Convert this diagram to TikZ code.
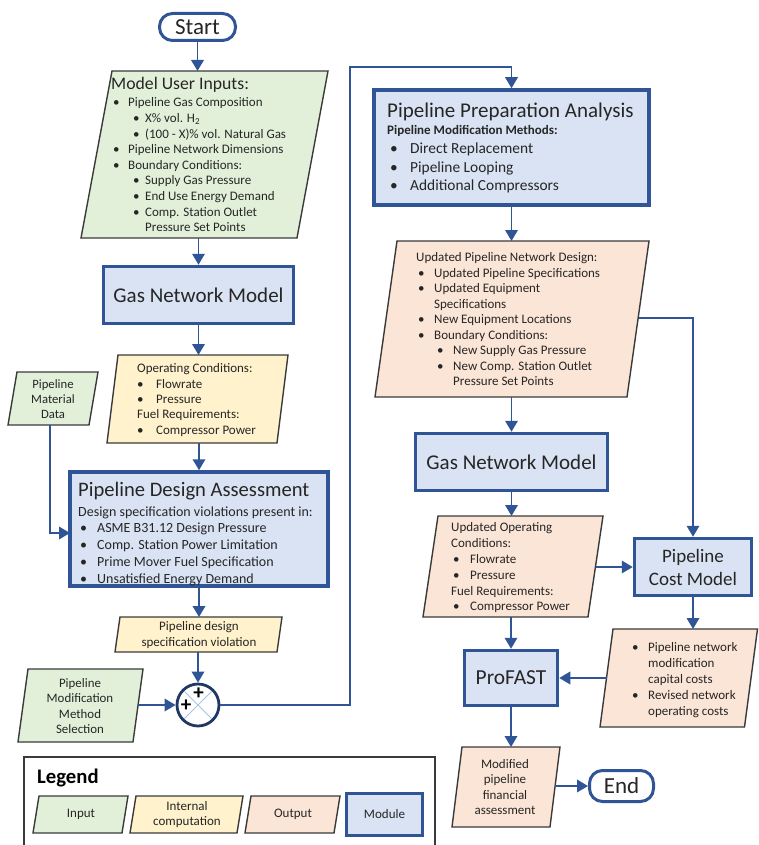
\documentclass[tikz,border=0pt]{standalone}
\usepackage{fontspec}
\setmainfont{Carlito}
\usetikzlibrary{arrows.meta}
\definecolor{modfill}{HTML}{DAE3F3}
\definecolor{modline}{HTML}{2F5597}
\definecolor{infill}{HTML}{E2F0D9}
\definecolor{compfill}{HTML}{FFF2CC}
\definecolor{outfill}{HTML}{FBE5D6}
\definecolor{pgline}{HTML}{3A3A3A}
\definecolor{navy}{HTML}{1F3864}
\definecolor{xlcol}{HTML}{A9C4E4}
\definecolor{txtcol}{HTML}{262626}
\newcommand\bi[2]{\hspace*{#1pt}\makebox[#2pt][l]{\textbullet}}
\newcommand\pgram[7]{%
  \draw[pg,fill=#2] (#3,#5) -- (#4,#5) -- ({#4-#7},#6) -- ({#3-#7},#6) -- cycle;
  \node[inner sep=0pt,outer sep=0pt,minimum width={(#4-#3)*1pt},minimum height={(#6-#5)*1pt}] (#1) at ({(#3+#4-#7)/2},{(#5+#6)/2}) {};
}
\tikzset{
  pg/.style={draw=pgline, line width=1.4pt},
  module/.style={draw=modline, fill=modfill, line width=3.5pt, inner sep=0pt, text=txtcol, align=center},
  term/.style={draw=modline, fill=white, line width=3pt, rounded corners=13pt, inner sep=0pt, text=txtcol, font=\fontsize{23}{26}\selectfont},
  arr/.style={draw=modline, line width=1.9pt, -{Triangle[length=11pt,width=12.5pt]}},
  conn/.style={draw=modline, line width=1.9pt},
  tx/.style={inner sep=0pt, text=txtcol, align=left, anchor=north west},
  ctx/.style={inner sep=0pt, text=txtcol, align=center},
  plus/.style={inner sep=0pt, text=black, font=\fontsize{21}{21}\selectfont\bfseries},
}
\begin{document}
\begin{tikzpicture}[x=1pt,y=-1pt]
\useasboundingbox (0,0) rectangle (759,845);

% Start
\node[term, minimum width=76pt, minimum height=27pt] (start) at (197.5,27) {Start};

% Model user inputs
\pgram{mui}{infill}{112}{328}{71}{238}{31}
\node[tx, font=\fontsize{17.7}{20}\selectfont] (muiT) at (111,77.5) {Model User Inputs:};
\node[tx, font=\fontsize{13}{15.6}\selectfont] (muiL) at (113,97.7) {%
\bi{0}{15}Pipeline Gas Composition\\
\bi{20}{12}X\% vol. H\textsubscript{2}\\
\bi{20}{12}(100 - X)\% vol. Natural Gas\\
\bi{0}{15}Pipeline Network Dimensions\\
\bi{0}{15}Boundary Conditions:\\
\bi{20}{12}Supply Gas Pressure\\
\bi{20}{12}End Use Energy Demand\\
\bi{20}{12}Comp. Station Outlet\\
\hspace*{32pt}Pressure Set Points};

% Gas network model 1
\node[module, minimum width=190pt, minimum height=57pt, font=\fontsize{21}{24}\selectfont] (gnm1) at (198.5,295) {Gas Network Model};

% Operating conditions
\pgram{oc}{compfill}{118}{288}{355}{443}{11}
\node[tx, font=\fontsize{13}{15.3}\selectfont] (ocT) at (137,363.7) {%
Operating Conditions:\\
\bi{0}{19}Flowrate\\
\bi{0}{19}Pressure\\
Fuel Requirements:\\
\bi{0}{19}Compressor Power};

% Pipeline material data
\pgram{pmd}{infill}{17}{98}{372}{425}{9}
\node[ctx, font=\fontsize{12.7}{15}\selectfont] (pmdT) at (53,399) {Pipeline\\Material\\Data};
\coordinate (pmdS) at (50,425);
\coordinate (pdaIn) at (70,533);

% Pipeline design assessment
\node[module, minimum width=258pt, minimum height=114pt] (pda) at (199,529) {};
\node[tx, font=\fontsize{20.6}{24}\selectfont] (pdaT) at (78,481.5) {Pipeline Design Assessment};
\node[tx, font=\fontsize{14}{16}\selectfont] (pdaS) at (78,506.3) {Design specification violations present in:};
\node[tx, font=\fontsize{14}{17}\selectfont] (pdaL) at (80,522.3) {%
\bi{0}{17}ASME B31.12 Design Pressure\\
\bi{0}{17}Comp. Station Power Limitation\\
\bi{0}{17}Prime Mover Fuel Specification\\
\bi{0}{17}Unsatisfied Energy Demand};

% Pipeline design specification violation
\pgram{pdsv}{compfill}{120}{282}{617}{652}{5}
\node[ctx, font=\fontsize{13}{16}\selectfont] (pdsvT) at (199,635) {Pipeline design\\specification violation};

% Summing junction
\node[circle, fill=white, minimum size=42pt, inner sep=0pt] (sum) at (198,705) {};
\draw[xlcol, line width=1pt] (184.5,691.5) -- (211.5,718.5) (184.5,718.5) -- (211.5,691.5);
\node[circle, draw=navy, line width=2.8pt, minimum size=42pt, inner sep=0pt] (sumB) at (198,705) {};
\node[plus] (plusT) at (198.5,694) {+};
\node[plus] (plusL) at (186,705.5) {+};

% Pipeline modification method selection
\pgram{pmms}{infill}{28}{143}{669}{742}{10}
\node[ctx, font=\fontsize{12.9}{15.5}\selectfont] (pmmsT) at (80,706) {Pipeline\\Modification\\Method\\Selection};

% Pipeline preparation analysis
\node[module, minimum width=275pt, minimum height=115pt] (ppa) at (511.5,147.5) {};
\node[tx, font=\fontsize{21}{24}\selectfont] (ppaT) at (387,102.4) {Pipeline Preparation Analysis};
\node[tx, font=\fontsize{13}{16}\selectfont\bfseries] (ppaS) at (387,124.7) {Pipeline Modification Methods:};
\node[tx, font=\fontsize{15.4}{18.5}\selectfont] (ppaL) at (390,142.7) {%
\bi{0}{20}Direct Replacement\\
\bi{0}{20}Pipeline Looping\\
\bi{0}{20}Additional Compressors};

% Updated pipeline network design
\pgram{upnd}{outfill}{397}{649}{241}{397}{22}
\node[tx, font=\fontsize{13}{15.5}\selectfont] (upndT) at (416,252.7) {%
Updated Pipeline Network Design:\\
\bi{2}{16}Updated Pipeline Specifications\\
\bi{2}{16}Updated Equipment\\
\hspace*{18pt}Specifications\\
\bi{2}{16}New Equipment Locations\\
\bi{2}{16}Boundary Conditions:\\
\bi{21}{16}New Supply Gas Pressure\\
\bi{21}{16}New Comp. Station Outlet\\
\hspace*{37pt}Pressure Set Points};
\coordinate (upndR) at (638.5,318);

% Gas network model 2
\node[module, minimum width=192pt, minimum height=57pt, font=\fontsize{21}{24}\selectfont] (gnm2) at (511.5,462) {Gas Network Model};

% Updated operating conditions
\pgram{uoc}{outfill}{438}{603}{516}{617}{15}
\node[tx, font=\fontsize{13}{15.8}\selectfont] (uocT) at (451,522.7) {%
Updated Operating\\
Conditions:\\
\bi{2}{17}Flowrate\\
\bi{2}{17}Pressure\\
Fuel Requirements:\\
\bi{2}{17}Compressor Power};

% Pipeline cost model
\node[module, minimum width=117pt, minimum height=57pt, font=\fontsize{19}{23}\selectfont] (pcm) at (693,567) {Pipeline\\Cost Model};

% Cost outputs
\pgram{cost}{outfill}{613}{757.5}{629}{727}{13}
\node[tx, font=\fontsize{13}{15.8}\selectfont] (costT) at (632,642.7) {%
\bi{0}{16}Pipeline network\\
\hspace*{16pt}modification\\
\hspace*{16pt}capital costs\\
\bi{0}{16}Revised network\\
\hspace*{16pt}operating costs};

% ProFAST
\node[module, minimum width=93pt, minimum height=55pt, font=\fontsize{21.4}{24}\selectfont] (profast) at (511,678) {ProFAST};

% Modified pipeline financial assessment
\pgram{mpfa}{outfill}{462}{560}{747}{827}{10}
\node[ctx, font=\fontsize{13}{15.5}\selectfont] (mpfaT) at (505,787) {Modified\\pipeline\\financial\\assessment};

% End
\node[term, minimum width=64pt, minimum height=31pt] (endn) at (621.5,786) {End};

% Legend
\draw[pgline, line width=1.4pt] (24,846) -- (24,757) -- (435,757) -- (435,846);
\node[tx, font=\fontsize{20.7}{24}\selectfont\bfseries, text=black] (legT) at (37,768.5) {Legend};
\pgram{lin}{infill}{39}{128}{796}{833}{6}
\node[ctx, font=\fontsize{13}{15.5}\selectfont] (linT) at (81,814.5) {Input};
\pgram{lcomp}{compfill}{136}{243}{796}{833}{6}
\node[ctx, font=\fontsize{13}{15.5}\selectfont] (lcompT) at (187,814.5) {Internal\\computation};
\pgram{lout}{outfill}{251}{340}{796}{833}{6}
\node[ctx, font=\fontsize{13}{15.5}\selectfont] (loutT) at (293,814.5) {Output};
\node[module, minimum width=76pt, minimum height=42pt, font=\fontsize{13}{15.5}\selectfont] (lmod) at (384.5,814.5) {Module};

% Connectors
\draw[arr] (start.south) -- (start.south |- mui.north);
\draw[arr] (gnm1.north |- mui.south) -- (gnm1.north);
\draw[arr] (gnm1.south) -- (gnm1.south |- oc.north);
\draw[arr] (pda.north |- oc.south) -- (pda.north);
\draw[arr] (pmdS) |- (pdaIn);
\draw[arr] (pda.south) -- (pda.south |- pdsv.north);
\draw[arr] (sumB.north |- pdsv.south) -- (sumB.north);
\draw[arr] (pmms.east |- sumB.west) -- (sumB.west);
\coordinate (loopA) at (350,67);
\draw[arr] (sumB.east) -| (loopA) -| (ppa.north);
\draw[arr] (ppa.south) -- (ppa.south |- upnd.north);
\draw[arr] (gnm2.north |- upnd.south) -- (gnm2.north);
\draw[arr] (upndR) -| (pcm.north);
\draw[arr] (gnm2.south) -- (gnm2.south |- uoc.north);
\draw[arr] (uoc.east |- pcm.west) -- (pcm.west);
\draw[arr] (profast.north |- uoc.south) -- (profast.north);
\draw[arr] (pcm.south) -- (pcm.south |- cost.north);
\draw[arr] (cost.west) -- (cost.west -| profast.east);
\draw[arr] (profast.south) -- (profast.south |- mpfa.north);
\draw[arr] (mpfa.east |- endn.west) -- (endn.west);
\end{tikzpicture}
\end{document}
